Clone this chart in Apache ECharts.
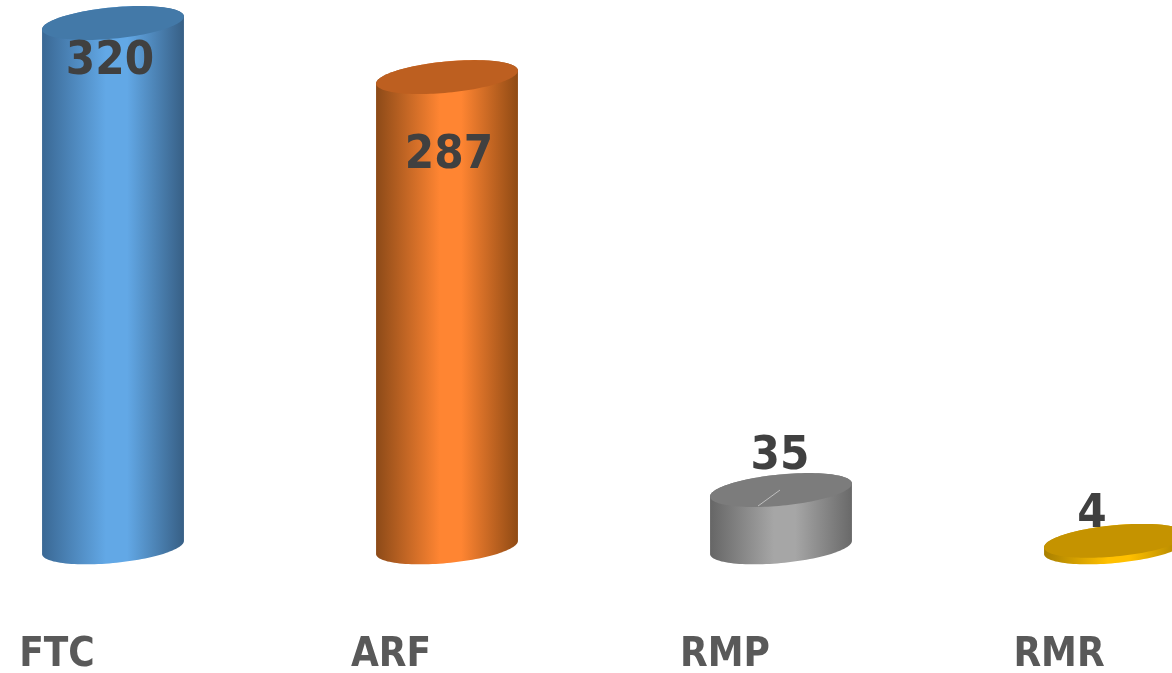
<!DOCTYPE html>
<html><head><meta charset="utf-8">
<style>html,body{margin:0;padding:0;background:#fff}#c{width:1172px;height:673px}</style>
<script src="https://cdn.jsdelivr.net/npm/echarts@6/dist/echarts.min.js"></script>
</head><body><div id="c"></div>
<script>
const categories = ['FTC','ARF','RMP','RMR'];
const values = [320,287,35,4];
// styling, per bar: side gradient edge/mid colours and top face
const sideEdgeL = ['#3a6894','#8c4a18','#666666','#a87f00'];
const sideMid   = ['#62a8e6','#ff8532','#a6a6a6','#ffc000'];
const sideEdgeR = ['#375f85','#8f4a14','#696969','#a87f00'];
const topFace   = ['#4379a8','#bd5f20','#7c7c7c','#c59300'];
// label offsets from each bar's top centre, in px
const labelDx = [-3,2,-1,-23];
const labelDy = [37,77,-35,-28];
const BAR_RATIO = 0.425, RY = 15.6, TILT = 5.5*Math.PI/180;
const FONT = '"DejaVu Sans Condensed","DejaVu Sans",sans-serif';

function ellPt(cx,cy,a,b,t){
  return [cx + a*Math.cos(t)*Math.cos(TILT) - b*Math.sin(t)*Math.sin(TILT),
          cy - (a*Math.cos(t)*Math.sin(TILT) + b*Math.sin(t)*Math.cos(TILT))];
}
function renderItem(params, api){
  const i = params.dataIndex;
  const base = api.coord([i,0]), top = api.coord([i,api.value(1)]);
  const band = api.size([1,0])[0];
  const a = band*BAR_RATIO/2*1.004, b = RY;
  const t0 = Math.atan2(-b*Math.sin(TILT), a*Math.cos(TILT)); // right-most param
  const N = 60, body = [], cap = [];
  // lower arc of base ellipse: right extreme -> bottom -> left extreme
  for(let k=0;k<=N;k++){ body.push(ellPt(base[0],base[1],a,b,t0 - Math.PI*k/N)); }
  // upper arc of top ellipse: left extreme -> top -> right extreme
  for(let k=0;k<=N;k++){ body.push(ellPt(top[0],top[1],a,b,t0 + Math.PI - Math.PI*k/N)); }
  for(let k=0;k<2*N;k++){ cap.push(ellPt(top[0],top[1],a,b,Math.PI*k/N)); }
  const grad = new echarts.graphic.LinearGradient(0,0,1,0,[
    {offset:0,color:sideEdgeL[i]},{offset:0.45,color:sideMid[i]},
    {offset:0.6,color:sideMid[i]},{offset:1,color:sideEdgeR[i]}]);
  const children = [
    {type:'polygon',shape:{points:body},style:{fill:grad}},
    {type:'polygon',shape:{points:cap},style:{fill:topFace[i]}}
  ];
  if(categories[i]==='RMP'){
    children.push({type:'line',shape:{x1:top[0]-23,y1:top[1]+16,x2:top[0]-1,y2:top[1]},
      style:{stroke:'#bfbfbf',lineWidth:1}});
  }
  children.push({type:'text',style:{text:String(api.value(1)),
    x:top[0]+labelDx[i],y:top[1]+labelDy[i]+2,align:'center',verticalAlign:'middle',
    fill:'#404040',font:'bold 47px '+FONT}});
  return {type:'group',children};
}
const chart = echarts.init(document.getElementById('c'),null,{renderer:'canvas'});
chart.setOption({
  animation:false,
  backgroundColor:'#fff',
  grid:{left:-54,width:1336,top:23,height:524.4,outerBoundsMode:'none'},
  xAxis:{type:'category',data:categories,
    axisLine:{show:false},axisTick:{show:false},
    axisLabel:{interval:0,margin:88,color:'#595959',fontFamily:FONT,fontWeight:'bold',fontSize:40,padding:[0,112,0,0]}},
  yAxis:{type:'value',min:0,max:320,show:false},
  series:[{type:'custom',renderItem,clip:false,encode:{x:0,y:1},
    data:categories.map((c,i)=>[i,values[i]])}]
});
</script></body></html>
